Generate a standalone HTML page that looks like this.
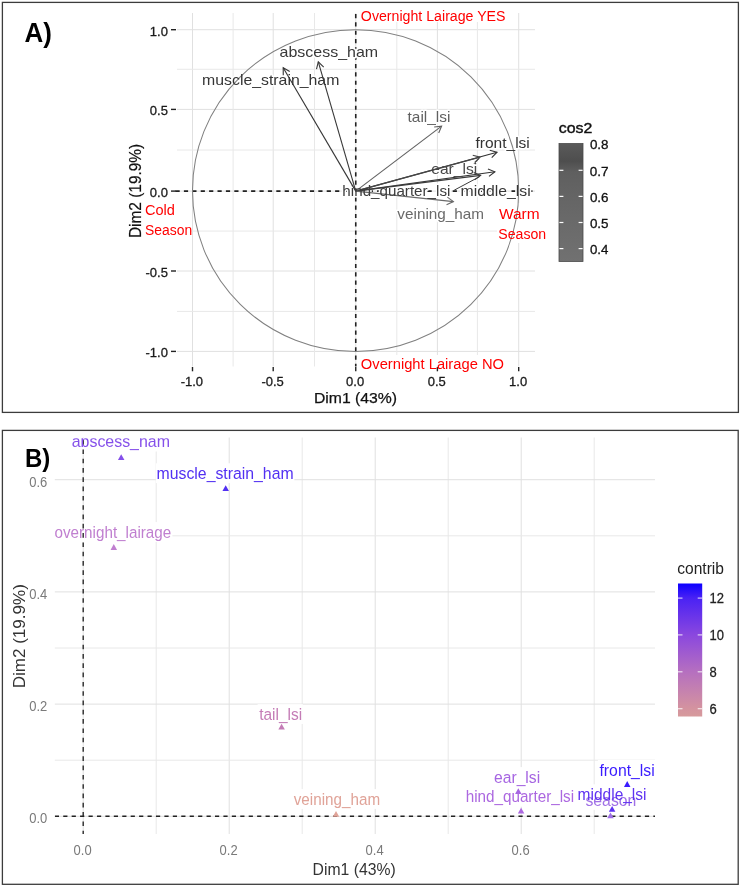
<!DOCTYPE html>
<html><head><meta charset="utf-8"><style>
html,body{margin:0;padding:0;background:#fff;}
svg{display:block;font-family:"Liberation Sans",sans-serif;}
.nl{will-change:transform;}
</style></head><body>
<svg class="nl" width="741" height="887" viewBox="0 0 741 887">
<rect width="741" height="887" fill="#fff"/>
<line x1="192.50" y1="13.00" x2="192.50" y2="366.50" stroke="#e0e0e0" stroke-width="1"/>
<line x1="177.00" y1="351.40" x2="535.00" y2="351.40" stroke="#e0e0e0" stroke-width="1"/>
<line x1="273.20" y1="13.00" x2="273.20" y2="366.50" stroke="#e0e0e0" stroke-width="1"/>
<line x1="177.00" y1="271.00" x2="535.00" y2="271.00" stroke="#e0e0e0" stroke-width="1"/>
<line x1="355.75" y1="13.00" x2="355.75" y2="366.50" stroke="#e0e0e0" stroke-width="1"/>
<line x1="177.00" y1="191.10" x2="535.00" y2="191.10" stroke="#e0e0e0" stroke-width="1"/>
<line x1="437.40" y1="13.00" x2="437.40" y2="366.50" stroke="#e0e0e0" stroke-width="1"/>
<line x1="177.00" y1="109.40" x2="535.00" y2="109.40" stroke="#e0e0e0" stroke-width="1"/>
<line x1="518.70" y1="13.00" x2="518.70" y2="366.50" stroke="#e0e0e0" stroke-width="1"/>
<line x1="177.00" y1="29.70" x2="535.00" y2="29.70" stroke="#e0e0e0" stroke-width="1"/>
<line x1="233.10" y1="13.00" x2="233.10" y2="366.50" stroke="#e8e8e8" stroke-width="1"/>
<line x1="177.00" y1="311.40" x2="535.00" y2="311.40" stroke="#e8e8e8" stroke-width="1"/>
<line x1="314.50" y1="13.00" x2="314.50" y2="366.50" stroke="#e8e8e8" stroke-width="1"/>
<line x1="177.00" y1="231.05" x2="535.00" y2="231.05" stroke="#e8e8e8" stroke-width="1"/>
<line x1="396.80" y1="13.00" x2="396.80" y2="366.50" stroke="#e8e8e8" stroke-width="1"/>
<line x1="177.00" y1="150.00" x2="535.00" y2="150.00" stroke="#e8e8e8" stroke-width="1"/>
<line x1="477.40" y1="13.00" x2="477.40" y2="366.50" stroke="#e8e8e8" stroke-width="1"/>
<line x1="177.00" y1="69.25" x2="535.00" y2="69.25" stroke="#e8e8e8" stroke-width="1"/>
<rect x="358" y="4" width="150" height="18" fill="#fff"/>
<rect x="358" y="355" width="150" height="18" fill="#fff"/>
<rect x="143" y="200" width="48" height="40" fill="#fff"/>
<rect x="497" y="203" width="52" height="40" fill="#fff"/>
<line x1="355.75" y1="13.00" x2="355.75" y2="366.50" stroke="#222" stroke-width="1.6" stroke-dasharray="4.165 4.165" stroke-dashoffset="7.33"/>
<line x1="175.50" y1="191.10" x2="535.00" y2="191.10" stroke="#222" stroke-width="1.6" stroke-dasharray="4.2 4.2"/>
<text x="279.52" y="57.00" font-size="15" fill="#fff" stroke="#fff" stroke-width="3.0" stroke-linejoin="round" textLength="98.62" lengthAdjust="spacingAndGlyphs">abscess_ham</text>
<text x="202.07" y="85.30" font-size="15" fill="#fff" stroke="#fff" stroke-width="3.0" stroke-linejoin="round" textLength="137.27" lengthAdjust="spacingAndGlyphs">muscle_strain_ham</text>
<text x="407.57" y="121.80" font-size="15" fill="#fff" stroke="#fff" stroke-width="3.0" stroke-linejoin="round" textLength="42.86" lengthAdjust="spacingAndGlyphs">tail_lsi</text>
<text x="475.46" y="147.50" font-size="15" fill="#fff" stroke="#fff" stroke-width="3.0" stroke-linejoin="round" textLength="54.38" lengthAdjust="spacingAndGlyphs">front_lsi</text>
<text x="431.24" y="173.50" font-size="15" fill="#fff" stroke="#fff" stroke-width="3.0" stroke-linejoin="round" textLength="45.93" lengthAdjust="spacingAndGlyphs">ear_lsi</text>
<text x="342.38" y="195.70" font-size="15" fill="#fff" stroke="#fff" stroke-width="3.0" stroke-linejoin="round" textLength="108.03" lengthAdjust="spacingAndGlyphs">hind_quarter_lsi</text>
<text x="460.57" y="195.60" font-size="15" fill="#fff" stroke="#fff" stroke-width="3.0" stroke-linejoin="round" textLength="70.17" lengthAdjust="spacingAndGlyphs">middle_lsi</text>
<text x="397.36" y="219.20" font-size="15" fill="#fff" stroke="#fff" stroke-width="3.0" stroke-linejoin="round" textLength="86.74" lengthAdjust="spacingAndGlyphs">veining_ham</text>
<ellipse cx="355.6" cy="190.6" rx="163.1" ry="160.9" fill="none" stroke="#808080" stroke-width="1.05"/>
<line x1="171.00" y1="351.40" x2="176.00" y2="351.40" stroke="#222" stroke-width="1.4"/>
<line x1="192.50" y1="367.00" x2="192.50" y2="371.30" stroke="#222" stroke-width="1.4"/>
<line x1="171.00" y1="271.00" x2="176.00" y2="271.00" stroke="#222" stroke-width="1.4"/>
<line x1="273.20" y1="367.00" x2="273.20" y2="371.30" stroke="#222" stroke-width="1.4"/>
<line x1="171.00" y1="191.10" x2="176.00" y2="191.10" stroke="#222" stroke-width="1.4"/>
<line x1="355.75" y1="367.00" x2="355.75" y2="371.30" stroke="#222" stroke-width="1.4"/>
<line x1="171.00" y1="109.40" x2="176.00" y2="109.40" stroke="#222" stroke-width="1.4"/>
<line x1="437.40" y1="367.00" x2="437.40" y2="371.30" stroke="#222" stroke-width="1.4"/>
<line x1="171.00" y1="29.70" x2="176.00" y2="29.70" stroke="#222" stroke-width="1.4"/>
<line x1="518.70" y1="367.00" x2="518.70" y2="371.30" stroke="#222" stroke-width="1.4"/>
<text x="149.82" y="35.50" font-size="13" fill="#1a1a1a" stroke="#1a1a1a" stroke-width="0.3">1.0</text>
<text x="149.85" y="115.20" font-size="13" fill="#1a1a1a" stroke="#1a1a1a" stroke-width="0.3">0.5</text>
<text x="149.82" y="196.90" font-size="13" fill="#1a1a1a" stroke="#1a1a1a" stroke-width="0.3">0.0</text>
<text x="145.53" y="276.80" font-size="13" fill="#1a1a1a" stroke="#1a1a1a" stroke-width="0.3">-0.5</text>
<text x="145.50" y="357.20" font-size="13" fill="#1a1a1a" stroke="#1a1a1a" stroke-width="0.3">-1.0</text>
<text x="518.10" y="386.20" font-size="13" fill="#1a1a1a" text-anchor="middle" stroke="#1a1a1a" stroke-width="0.3">1.0</text>
<text x="436.80" y="386.20" font-size="13" fill="#1a1a1a" text-anchor="middle" stroke="#1a1a1a" stroke-width="0.3">0.5</text>
<text x="355.15" y="386.20" font-size="13" fill="#1a1a1a" text-anchor="middle" stroke="#1a1a1a" stroke-width="0.3">0.0</text>
<text x="272.60" y="386.20" font-size="13" fill="#1a1a1a" text-anchor="middle" stroke="#1a1a1a" stroke-width="0.3">-0.5</text>
<text x="191.90" y="386.20" font-size="13" fill="#1a1a1a" text-anchor="middle" stroke="#1a1a1a" stroke-width="0.3">-1.0</text>
<text x="313.94" y="403.20" font-size="15" fill="#111" textLength="83.13" lengthAdjust="spacingAndGlyphs" stroke="#111" stroke-width="0.25">Dim1 (43%)</text>
<g transform="translate(141.3,236.8) rotate(-90)">
<text x="-1.23" y="0" font-size="16" fill="#111" stroke="#111" stroke-width="0.2" textLength="94.16" lengthAdjust="spacingAndGlyphs">Dim2 (19.9%)</text>
</g>
<line x1="355.75" y1="191.10" x2="497.00" y2="152.20" stroke="#333333" stroke-width="1.1"/>
<polyline points="491.73,157.54 497.00,152.20 489.74,150.31" fill="none" stroke="#333333" stroke-width="1.1"/>
<line x1="355.75" y1="191.10" x2="480.00" y2="157.10" stroke="#474747" stroke-width="1.1"/>
<polyline points="474.72,162.43 480.00,157.10 472.75,155.20" fill="none" stroke="#474747" stroke-width="1.1"/>
<line x1="355.75" y1="191.10" x2="494.90" y2="171.80" stroke="#363636" stroke-width="1.1"/>
<polyline points="488.98,176.41 494.90,171.80 487.95,168.98" fill="none" stroke="#363636" stroke-width="1.1"/>
<line x1="355.75" y1="191.10" x2="480.60" y2="175.40" stroke="#3c3c3c" stroke-width="1.1"/>
<polyline points="474.62,179.93 480.60,175.40 473.69,172.49" fill="none" stroke="#3c3c3c" stroke-width="1.1"/>
<line x1="355.75" y1="191.10" x2="453.40" y2="201.60" stroke="#6a6a6a" stroke-width="1.1"/>
<polyline points="446.54,204.63 453.40,201.60 447.34,197.18" fill="none" stroke="#6a6a6a" stroke-width="1.1"/>
<line x1="355.75" y1="191.10" x2="441.60" y2="126.10" stroke="#606060" stroke-width="1.1"/>
<polyline points="438.69,133.01 441.60,126.10 434.16,127.03" fill="none" stroke="#606060" stroke-width="1.1"/>
<line x1="355.75" y1="191.10" x2="318.30" y2="61.90" stroke="#383838" stroke-width="1.1"/>
<polyline points="323.71,67.09 318.30,61.90 316.51,69.18" fill="none" stroke="#383838" stroke-width="1.1"/>
<line x1="355.75" y1="191.10" x2="283.20" y2="67.70" stroke="#353535" stroke-width="1.1"/>
<polyline points="289.72,71.40 283.20,67.70 283.26,75.20" fill="none" stroke="#353535" stroke-width="1.1"/>
<line x1="454.20" y1="190.20" x2="479.70" y2="176.60" stroke="#3c3c3c" stroke-width="1"/>
<line x1="474.00" y1="163.80" x2="479.20" y2="158.50" stroke="#474747" stroke-width="1"/>
<text x="279.52" y="57.00" font-size="15" fill="#383838" textLength="98.62" lengthAdjust="spacingAndGlyphs">abscess_ham</text>
<text x="202.07" y="85.30" font-size="15" fill="#353535" textLength="137.27" lengthAdjust="spacingAndGlyphs">muscle_strain_ham</text>
<text x="407.57" y="121.80" font-size="15" fill="#606060" textLength="42.86" lengthAdjust="spacingAndGlyphs">tail_lsi</text>
<text x="475.46" y="147.50" font-size="15" fill="#333333" textLength="54.38" lengthAdjust="spacingAndGlyphs">front_lsi</text>
<text x="431.24" y="173.50" font-size="15" fill="#474747" textLength="45.93" lengthAdjust="spacingAndGlyphs">ear_lsi</text>
<text x="342.38" y="195.70" font-size="15" fill="#3c3c3c" textLength="108.03" lengthAdjust="spacingAndGlyphs">hind_quarter_lsi</text>
<text x="460.57" y="195.60" font-size="15" fill="#363636" textLength="70.17" lengthAdjust="spacingAndGlyphs">middle_lsi</text>
<text x="397.36" y="219.20" font-size="15" fill="#6a6a6a" textLength="86.74" lengthAdjust="spacingAndGlyphs">veining_ham</text>
<text x="360.86" y="21.40" font-size="14" fill="#ff0000" textLength="144.68" lengthAdjust="spacingAndGlyphs">Overnight Lairage YES</text>
<text x="360.84" y="368.60" font-size="14" fill="#ff0000" textLength="143.16" lengthAdjust="spacingAndGlyphs">Overnight Lairage NO</text>
<text x="144.97" y="215.40" font-size="14" fill="#ff0000" textLength="29.96" lengthAdjust="spacingAndGlyphs">Cold</text>
<text x="145.07" y="235.30" font-size="14" fill="#ff0000" textLength="47.12" lengthAdjust="spacingAndGlyphs">Season</text>
<text x="498.96" y="218.90" font-size="14" fill="#ff0000" textLength="40.67" lengthAdjust="spacingAndGlyphs">Warm</text>
<text x="498.37" y="238.50" font-size="14" fill="#ff0000" textLength="47.84" lengthAdjust="spacingAndGlyphs">Season</text>
<text x="558.72" y="133.40" font-size="15" fill="#111" textLength="33.57" lengthAdjust="spacingAndGlyphs" stroke="#111" stroke-width="0.4">cos2</text>
<defs><linearGradient id="gA" x1="0" y1="0" x2="0" y2="1"><stop offset="0" stop-color="#5a5a5a"/><stop offset="0.15" stop-color="#4e4e4e"/><stop offset="0.24" stop-color="#5f5f5f"/><stop offset="0.5" stop-color="#666"/><stop offset="1" stop-color="#717171"/></linearGradient><linearGradient id="gB" x1="0" y1="0" x2="0" y2="1"><stop offset="0" stop-color="#0c00ff"/><stop offset="0.11" stop-color="#4a22f4"/><stop offset="0.39" stop-color="#8b48de"/><stop offset="0.66" stop-color="#b56fc0"/><stop offset="0.94" stop-color="#d4939f"/><stop offset="1" stop-color="#d69a9c"/></linearGradient><clipPath id="clipB"><rect x="54.8" y="438.3" width="600.2" height="395.7"/></clipPath></defs>
<rect x="559" y="143.5" width="24" height="118" fill="url(#gA)" stroke="#4a4a4a" stroke-width="0.8"/>
<text x="589.90" y="148.90" font-size="13" fill="#111" textLength="18.64" lengthAdjust="spacingAndGlyphs" stroke="#111" stroke-width="0.3">0.8</text>
<line x1="559.40" y1="170.30" x2="563.40" y2="170.30" stroke="#fff" stroke-width="1.2"/>
<line x1="578.60" y1="170.30" x2="582.60" y2="170.30" stroke="#fff" stroke-width="1.2"/>
<text x="589.89" y="175.60" font-size="13" fill="#111" textLength="18.75" lengthAdjust="spacingAndGlyphs" stroke="#111" stroke-width="0.3">0.7</text>
<line x1="559.40" y1="196.40" x2="563.40" y2="196.40" stroke="#fff" stroke-width="1.2"/>
<line x1="578.60" y1="196.40" x2="582.60" y2="196.40" stroke="#fff" stroke-width="1.2"/>
<text x="589.90" y="201.70" font-size="13" fill="#111" textLength="18.68" lengthAdjust="spacingAndGlyphs" stroke="#111" stroke-width="0.3">0.6</text>
<line x1="559.40" y1="222.50" x2="563.40" y2="222.50" stroke="#fff" stroke-width="1.2"/>
<line x1="578.60" y1="222.50" x2="582.60" y2="222.50" stroke="#fff" stroke-width="1.2"/>
<text x="589.90" y="227.80" font-size="13" fill="#111" textLength="18.64" lengthAdjust="spacingAndGlyphs" stroke="#111" stroke-width="0.3">0.5</text>
<line x1="559.40" y1="248.60" x2="563.40" y2="248.60" stroke="#fff" stroke-width="1.2"/>
<line x1="578.60" y1="248.60" x2="582.60" y2="248.60" stroke="#fff" stroke-width="1.2"/>
<text x="589.90" y="253.90" font-size="13" fill="#111" textLength="18.47" lengthAdjust="spacingAndGlyphs" stroke="#111" stroke-width="0.3">0.4</text>
<text x="24.45" y="42.20" font-size="27.5" fill="#000" font-weight="bold" textLength="27.39" lengthAdjust="spacingAndGlyphs">A)</text>
<g>
<line x1="83.20" y1="437.50" x2="83.20" y2="834.00" stroke="#e0e0e0" stroke-width="1"/>
<line x1="229.20" y1="437.50" x2="229.20" y2="834.00" stroke="#e0e0e0" stroke-width="1"/>
<line x1="375.20" y1="437.50" x2="375.20" y2="834.00" stroke="#e0e0e0" stroke-width="1"/>
<line x1="521.20" y1="437.50" x2="521.20" y2="834.00" stroke="#e0e0e0" stroke-width="1"/>
<line x1="156.20" y1="437.50" x2="156.20" y2="834.00" stroke="#e8e8e8" stroke-width="1"/>
<line x1="302.20" y1="437.50" x2="302.20" y2="834.00" stroke="#e8e8e8" stroke-width="1"/>
<line x1="448.20" y1="437.50" x2="448.20" y2="834.00" stroke="#e8e8e8" stroke-width="1"/>
<line x1="594.20" y1="437.50" x2="594.20" y2="834.00" stroke="#e8e8e8" stroke-width="1"/>
<line x1="54.80" y1="816.30" x2="655.00" y2="816.30" stroke="#e0e0e0" stroke-width="1"/>
<line x1="54.80" y1="704.10" x2="655.00" y2="704.10" stroke="#e0e0e0" stroke-width="1"/>
<line x1="54.80" y1="591.90" x2="655.00" y2="591.90" stroke="#e0e0e0" stroke-width="1"/>
<line x1="54.80" y1="479.70" x2="655.00" y2="479.70" stroke="#e0e0e0" stroke-width="1"/>
<line x1="54.80" y1="760.20" x2="655.00" y2="760.20" stroke="#e8e8e8" stroke-width="1"/>
<line x1="54.80" y1="648.00" x2="655.00" y2="648.00" stroke="#e8e8e8" stroke-width="1"/>
<line x1="54.80" y1="535.80" x2="655.00" y2="535.80" stroke="#e8e8e8" stroke-width="1"/>
</g>
<g clip-path="url(#clipB)">
<rect x="70.60" y="431.70" width="100.10" height="19.8" fill="#fff"/>
<rect x="155.80" y="463.30" width="138.60" height="19.8" fill="#fff"/>
<rect x="53.30" y="522.10" width="119.10" height="19.8" fill="#fff"/>
<rect x="257.60" y="704.20" width="45.30" height="19.8" fill="#fff"/>
<rect x="292.00" y="789.10" width="88.90" height="19.8" fill="#fff"/>
<rect x="492.90" y="767.10" width="48.00" height="19.8" fill="#fff"/>
<rect x="464.90" y="786.90" width="110.00" height="19.8" fill="#fff"/>
<rect x="584.10" y="790.00" width="53.00" height="19.8" fill="#fff"/>
<rect x="576.80" y="784.30" width="70.50" height="19.8" fill="#fff"/>
<rect x="597.90" y="760.00" width="57.50" height="19.8" fill="#fff"/>
<line x1="83.20" y1="437.50" x2="83.20" y2="834.00" stroke="#2a2a2a" stroke-width="1.4" stroke-dasharray="4.65 4.65" stroke-dashoffset="6.7"/>
<line x1="54.80" y1="816.30" x2="655.00" y2="816.30" stroke="#222" stroke-width="1.4" stroke-dasharray="4.215 4.215"/>
<polygon points="117.95,460.03 124.45,460.03 121.20,454.18" fill="#8550ea"/>
<polygon points="222.45,491.12 228.95,491.12 225.70,485.27" fill="#5230f2"/>
<polygon points="110.55,549.92 117.05,549.92 113.80,544.08" fill="#c07fd0"/>
<polygon points="278.35,729.62 284.85,729.62 281.60,723.78" fill="#c47cb6"/>
<polygon points="332.75,816.82 339.25,816.82 336.00,810.98" fill="#e0a398"/>
<polygon points="515.05,794.12 521.55,794.12 518.30,788.28" fill="#a665e2"/>
<polygon points="517.85,813.52 524.35,813.52 521.10,807.68" fill="#ac68e0"/>
<polygon points="623.95,786.92 630.45,786.92 627.20,781.08" fill="#3a1cff"/>
<polygon points="608.85,811.72 615.35,811.72 612.10,805.88" fill="#5e32f2"/>
<polygon points="607.25,818.22 613.75,818.22 610.50,812.38" fill="#a070e6"/>
<text x="71.72" y="447.30" font-size="15" fill="#8550ea" textLength="98.21" lengthAdjust="spacingAndGlyphs" transform="matrix(1,0,0,1.12,0,-53.676)">abscess_ham</text>
<text x="156.57" y="478.90" font-size="15" fill="#5230f2" textLength="137.06" lengthAdjust="spacingAndGlyphs" transform="matrix(1,0,0,1.12,0,-57.468)">muscle_strain_ham</text>
<text x="54.49" y="537.70" font-size="15" fill="#c07fd0" textLength="116.79" lengthAdjust="spacingAndGlyphs" transform="matrix(1,0,0,1.12,0,-64.524)">overnight_lairage</text>
<text x="259.17" y="719.80" font-size="15" fill="#c47cb6" textLength="42.96" lengthAdjust="spacingAndGlyphs" transform="matrix(1,0,0,1.12,0,-86.376)">tail_lsi</text>
<text x="293.76" y="804.70" font-size="15" fill="#e0a398" textLength="86.34" lengthAdjust="spacingAndGlyphs" transform="matrix(1,0,0,1.12,0,-96.564)">veining_ham</text>
<text x="494.03" y="782.70" font-size="15" fill="#a665e2" textLength="46.14" lengthAdjust="spacingAndGlyphs" transform="matrix(1,0,0,1.12,0,-93.924)">ear_lsi</text>
<text x="465.67" y="802.50" font-size="15" fill="#ac68e0" textLength="108.43" lengthAdjust="spacingAndGlyphs" transform="matrix(1,0,0,1.12,0,-96.300)">hind_quarter_lsi</text>
<text x="585.47" y="805.60" font-size="15" fill="#a070e6" textLength="50.85" lengthAdjust="spacingAndGlyphs" transform="matrix(1,0,0,1.12,0,-96.672)">season</text>
<text x="577.59" y="799.90" font-size="15" fill="#5e32f2" textLength="68.94" lengthAdjust="spacingAndGlyphs" transform="matrix(1,0,0,1.12,0,-95.988)">middle_lsi</text>
<text x="599.50" y="775.60" font-size="15" fill="#3a1cff" textLength="55.15" lengthAdjust="spacingAndGlyphs" transform="matrix(1,0,0,1.12,0,-93.072)">front_lsi</text>
</g>
<text x="82.60" y="855.20" font-size="13" fill="#7a7a7a" text-anchor="middle" transform="matrix(1,0,0,1.12,0,-102.624)">0.0</text>
<text x="228.60" y="855.20" font-size="13" fill="#7a7a7a" text-anchor="middle" transform="matrix(1,0,0,1.12,0,-102.624)">0.2</text>
<text x="374.60" y="855.20" font-size="13" fill="#7a7a7a" text-anchor="middle" transform="matrix(1,0,0,1.12,0,-102.624)">0.4</text>
<text x="520.60" y="855.20" font-size="13" fill="#7a7a7a" text-anchor="middle" transform="matrix(1,0,0,1.12,0,-102.624)">0.6</text>
<text x="29.23" y="823.20" font-size="13" fill="#7a7a7a" transform="matrix(1,0,0,1.12,0,-98.784)">0.0</text>
<text x="29.23" y="711.00" font-size="13" fill="#7a7a7a" transform="matrix(1,0,0,1.12,0,-85.320)">0.2</text>
<text x="29.23" y="598.80" font-size="13" fill="#7a7a7a" transform="matrix(1,0,0,1.12,0,-71.856)">0.4</text>
<text x="29.23" y="486.60" font-size="13" fill="#7a7a7a" transform="matrix(1,0,0,1.12,0,-58.392)">0.6</text>
<text x="312.54" y="874.60" font-size="15" fill="#333" textLength="83.13" lengthAdjust="spacingAndGlyphs" transform="matrix(1,0,0,1.12,0,-104.952)">Dim1 (43%)</text>
<g transform="translate(24.6,687) rotate(-90)">
<text x="-1.36" y="0" font-size="16" fill="#333" textLength="104.19" lengthAdjust="spacingAndGlyphs">Dim2 (19.9%)</text>
</g>
<text x="677.24" y="574.40" font-size="15" fill="#222" textLength="46.71" lengthAdjust="spacingAndGlyphs" transform="matrix(1,0,0,1.12,0,-68.928)">contrib</text>
<rect x="678" y="583.5" width="24.2" height="133" fill="url(#gB)"/>
<line x1="678.00" y1="598.10" x2="682.50" y2="598.10" stroke="#fff" stroke-width="1.2" stroke-opacity="0.75"/>
<line x1="697.70" y1="598.10" x2="702.20" y2="598.10" stroke="#fff" stroke-width="1.2" stroke-opacity="0.75"/>
<text x="709.5" y="603.20" font-size="13" fill="#222" stroke="#222" stroke-width="0.25" transform="matrix(1,0,0,1.12,0,-72.384)">12</text>
<line x1="678.00" y1="634.90" x2="682.50" y2="634.90" stroke="#fff" stroke-width="1.2" stroke-opacity="0.75"/>
<line x1="697.70" y1="634.90" x2="702.20" y2="634.90" stroke="#fff" stroke-width="1.2" stroke-opacity="0.75"/>
<text x="709.5" y="640.00" font-size="13" fill="#222" stroke="#222" stroke-width="0.25" transform="matrix(1,0,0,1.12,0,-76.800)">10</text>
<line x1="678.00" y1="671.80" x2="682.50" y2="671.80" stroke="#fff" stroke-width="1.2" stroke-opacity="0.75"/>
<line x1="697.70" y1="671.80" x2="702.20" y2="671.80" stroke="#fff" stroke-width="1.2" stroke-opacity="0.75"/>
<text x="709.5" y="676.90" font-size="13" fill="#222" stroke="#222" stroke-width="0.25" transform="matrix(1,0,0,1.12,0,-81.228)">8</text>
<line x1="678.00" y1="708.70" x2="682.50" y2="708.70" stroke="#fff" stroke-width="1.2" stroke-opacity="0.75"/>
<line x1="697.70" y1="708.70" x2="702.20" y2="708.70" stroke="#fff" stroke-width="1.2" stroke-opacity="0.75"/>
<text x="709.5" y="713.80" font-size="13" fill="#222" stroke="#222" stroke-width="0.25" transform="matrix(1,0,0,1.12,0,-85.656)">6</text>
<text x="25.04" y="467.00" font-size="25" fill="#000" font-weight="bold" textLength="25.30" lengthAdjust="spacingAndGlyphs">B)</text>
<rect x="2.4" y="2.4" width="736" height="410" fill="none" stroke="#3c3c3c" stroke-width="1.3"/>
<rect x="2.4" y="430.4" width="735.8" height="453.9" fill="none" stroke="#3c3c3c" stroke-width="1.3"/>
</svg></body></html>
